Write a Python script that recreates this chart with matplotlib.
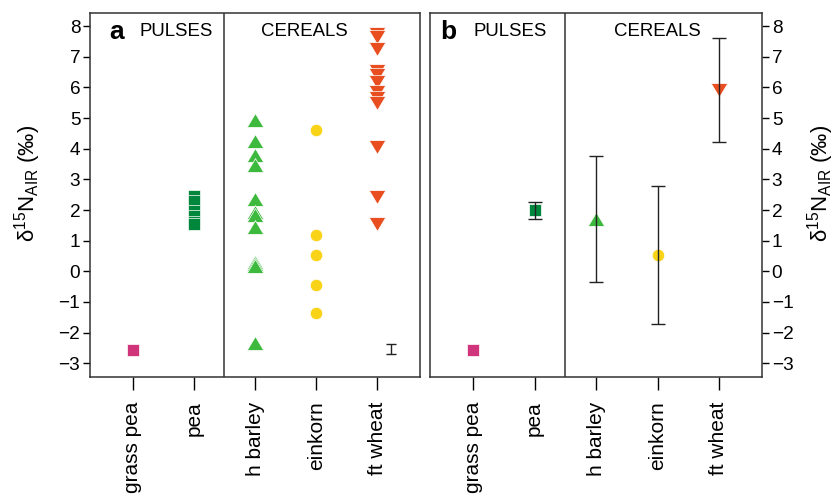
"""Nitrogen isotope values of pulses and cereals: raw values (a) and means (b)."""
import matplotlib

matplotlib.use("Agg")
import matplotlib.pyplot as plt

plt.rcParams["font.family"] = ["Liberation Sans", "DejaVu Sans"]
plt.rcParams["mathtext.fontset"] = "custom"
plt.rcParams["mathtext.rm"] = "Liberation Sans"
plt.rcParams["mathtext.it"] = "Liberation Sans:italic"

crops = ["grass pea", "pea", "h barley", "einkorn", "ft wheat"]
colors = ["#D0347A", "#00873C", "#3DB93D", "#F9D318", "#E84E1F"]

# panel a: individual measurements
grass_pea = [-2.57]
pea = [2.45, 2.30, 1.97, 1.80, 1.62, 1.55]
h_barley = [4.95, 4.25, 3.81, 3.46, 2.36, 1.95, 1.85, 1.45, 0.30, 0.24, 0.16, -2.35]
einkorn = [4.62, 1.20, 0.52, -0.45, -1.37]
ft_wheat = [7.76, 7.65, 7.24, 6.53, 6.40, 6.18, 5.85, 5.65, 5.49, 4.06, 2.42, 1.55]
analytic_err = 0.17

# panel b: means and spread
mean_vals = [-2.57, 1.99, 1.70, 0.53, 5.91]
mean_err = [0.0, 0.28, 2.05, 2.25, 1.70]

yticks = list(range(-3, 9))

TRI_UP = [(0, 0.84), (-1, -0.84), (1, -0.84), (0, 0.84)]
TRI_DOWN = [(0, -0.84), (-1, 0.84), (1, 0.84), (0, -0.84)]
markers = ["s", "s", TRI_UP, "o", TRI_DOWN]
sizes = [8.3, 8.3, 11.8, 8.9, 11.8]

ylabel = r"δ$^{15}$N$_{\mathrm{AIR}}$ (‰)"


def style(ax, side):
    ax.set_xlim(0.3, 5.7)
    ax.set_ylim(-3.44, 8.44)
    for sp in ax.spines.values():
        sp.set_color("#333333")
        sp.set_linewidth(1.1)
    ax.axvline(2.5, color="#333333", lw=1.1)
    ax.set_xticks(range(1, 6))
    ax.set_xticklabels(crops, rotation=90, fontsize=15)
    ax.tick_params(axis="x", length=9, width=1, pad=9)
    ax.set_yticks(yticks)
    ax.set_yticklabels([str(v).replace("-", "\u2212") for v in yticks], fontsize=13.7)
    ax.tick_params(axis="y", length=5, width=1, pad=2)
    if side == "right":
        ax.yaxis.tick_right()
        ax.yaxis.set_label_position("right")
        ax.set_ylabel(ylabel, fontsize=16, rotation=90)
        ax.yaxis.set_label_coords(1.13, 0.532)
    else:
        ax.set_ylabel(ylabel, fontsize=16)
        ax.yaxis.set_label_coords(-0.142, 0.532)


fig = plt.figure(figsize=(8.36, 5.01), dpi=100)
ax_a = fig.add_axes([0.1077, 0.2481, 0.3947, 0.7265])
ax_b = fig.add_axes([0.5144, 0.2481, 0.3971, 0.7265])

groups = [grass_pea, pea, h_barley, einkorn, ft_wheat]
for i, vals in enumerate(groups):
    ax_a.plot([i + 1] * len(vals), vals, ls="none", marker=markers[i], ms=sizes[i],
              color=colors[i], mec="white", mew=0.5)
ax_a.errorbar([5.22], [-2.53], yerr=[analytic_err], fmt="none", ecolor="#222222",
              elinewidth=1, capsize=3.6, capthick=1)
style(ax_a, "left")
ax_a.text(0.73, 7.82, "a", fontsize=19, fontweight="bold", ha="center", va="center")
ax_a.text(1.71, 7.82, "PULSES", fontsize=13.4, ha="center", va="center")
ax_a.text(3.80, 7.82, "CEREALS", fontsize=13.4, ha="center", va="center")

for i in range(5):
    ax_b.plot([i + 1], [mean_vals[i]], ls="none", marker=markers[i], ms=sizes[i],
              color=colors[i], mec="white", mew=0.5)
    if mean_err[i] > 0:
        ax_b.errorbar([i + 1], [mean_vals[i]], yerr=[mean_err[i]], fmt="none",
                      ecolor="#222222", elinewidth=1, capsize=4.7, capthick=1)
style(ax_b, "right")
ax_b.text(0.60, 7.82, "b", fontsize=19, fontweight="bold", ha="center", va="center")
ax_b.text(1.60, 7.82, "PULSES", fontsize=13.4, ha="center", va="center")
ax_b.text(4.00, 7.82, "CEREALS", fontsize=13.4, ha="center", va="center")

fig.savefig("out.png", dpi=100)
plt.close(fig)
